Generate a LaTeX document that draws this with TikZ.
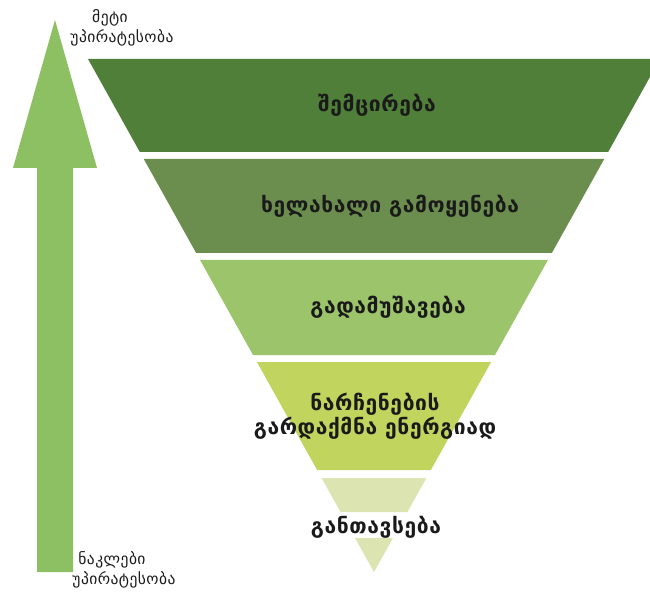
\documentclass[tikz,border=0pt]{standalone}
\usepackage{fontspec}
\newfontfamily\geofont[Script=Georgian,LetterSpace=3]{DejaVu Sans}
\definecolor{bandA}{HTML}{4F7F39}
\definecolor{bandB}{HTML}{6B8E4F}
\definecolor{bandC}{HTML}{9CC46B}
\definecolor{bandD}{HTML}{C0D45E}
\definecolor{bandE}{HTML}{DCE5B2}
\definecolor{arrowc}{HTML}{8DC063}
\definecolor{txt}{HTML}{1A1A1A}
\begin{document}
\begin{tikzpicture}[x=1pt,y=-1pt,
  bandlabel/.style={text=txt,font=\geofont\bfseries\fontsize{21}{24}\selectfont,align=center,inner sep=0pt},
  sidelabel/.style={text=txt,font=\geofont\fontsize{15.5}{20}\selectfont,inner sep=0pt}]
\useasboundingbox (0,0) rectangle (650,593);
\clip (0,0) rectangle (650,593);
\fill[white] (0,0) rectangle (650,593);
% pyramid: apex (374,572), half width = (572-y)*0.5575
\def\band#1#2#3{%
  \pgfmathsetmacro\wa{(572-#1)*0.5575}%
  \pgfmathsetmacro\wb{(572-#2)*0.5575}%
  \fill[#3] (374-\wa,#1) -- (374+\wa,#1) -- (374+\wb,#2) -- (374-\wb,#2) -- cycle;}
\band{59}{152}{bandA}
\band{159}{253}{bandB}
\band{260}{355}{bandC}
\band{362}{470}{bandD}
\band{478}{512}{bandE}
\pgfmathsetmacro\wt{(572-538)*0.5575}
\fill[bandE] (374-\wt,538) -- (374+\wt,538) -- (374,572) -- cycle;
% arrow
\fill[arrowc] (37,572) -- (73,572) -- (73,168) -- (97,168) -- (55,20) -- (13,168) -- (37,168) -- cycle;
% labels
\node[bandlabel] (l1) at (377,105) {შემცირება};
\node[bandlabel] (l2) at (390,206) {ხელახალი გამოყენება};
\node[bandlabel] (l3) at (388,307) {გადამუშავება};
\node[bandlabel] (l4) at (375,416) {ნარჩენების\\გარდაქმნა ენერგიად};
\node[bandlabel] (l5) at (376,527) {განთავსება};
\node[sidelabel] (t1) at (110,18) {მეტი};
\node[sidelabel] (t2) at (122,38) {უპირატესობა};
\node[sidelabel] (b1) at (112,560) {ნაკლები};
\node[sidelabel] (b2) at (124,580) {უპირატესობა};
\end{tikzpicture}
\end{document}
